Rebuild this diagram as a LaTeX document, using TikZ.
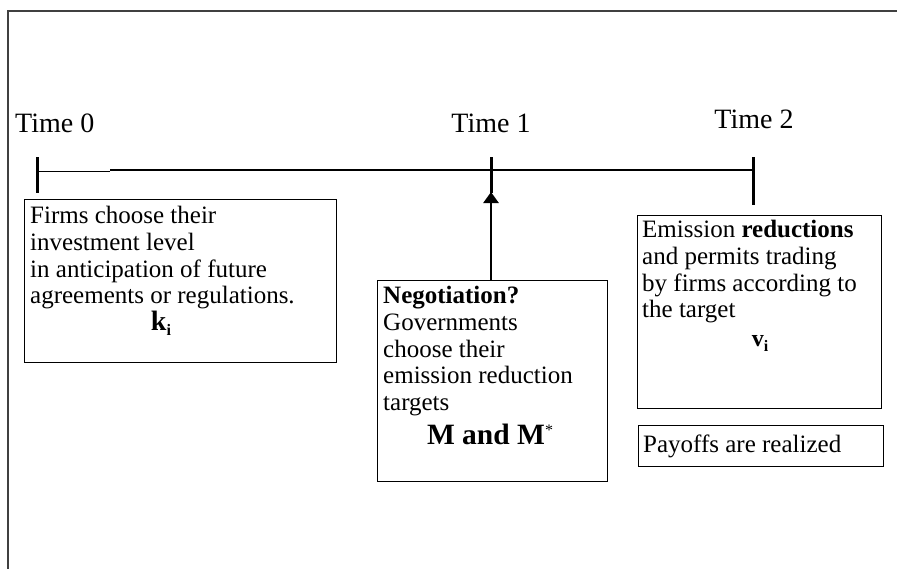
\documentclass[tikz,border=0pt]{standalone}
\usepackage{fontspec}
\setmainfont{Liberation Serif}
\usetikzlibrary{arrows.meta}
\newcommand{\subi}{{\fontsize{16}{16}\selectfont\raisebox{-5pt}{\textbf{i}}}}
\begin{document}
\begin{tikzpicture}[x=1pt,y=-1pt,
  frame/.style={draw=black!75, line width=2pt},
  box/.style={draw, line width=1.3pt, inner sep=0pt, anchor=north west},
  txt/.style={anchor=north west, align=left, inner sep=0pt, font=\fontsize{25}{26.8}\selectfont},
  lbl/.style={inner sep=0pt, font=\fontsize{28}{30}\selectfont},
  tick/.style={line width=3pt},
  thin/.style={line width=0.9pt},
  thick/.style={line width=2.6pt},
  arr/.style={line width=2.6pt, -{Triangle[length=11pt,width=15pt]}}]
\useasboundingbox (0,0) rectangle (897,568);
\clip (0,0) rectangle (897,568);
% outer frame (cut by the page)
\draw[frame] (8,580) -- (8,11) -- (910,11);
% time labels
\node[lbl, anchor=base west] (t0) at (15,132) {Time 0};
\node[lbl, anchor=base] (t1) at (491,132) {Time 1};
\node[lbl, anchor=base] (t2) at (754,128) {Time 2};
% timeline
\coordinate (a0) at (37,171);
\coordinate (a1) at (110,171);
\coordinate (a2) at (753,170);
\coordinate (m1) at (110,170);
\draw[thin] (a0) -- (a1);
\draw[thick] (m1) -- (a2);
\draw[tick] (37,157) -- (37,193);
\draw[tick] (491,157) -- (491,193);
\draw[tick] (753,157) -- (753,205);
% boxes
\node[box, minimum width=312pt, minimum height=163pt] (b1) at (24,199) {};
\node[box, minimum width=230pt, minimum height=201pt] (b2) at (377,280) {};
\node[box, minimum width=244pt, minimum height=193pt] (b3) at (637,215) {};
\node[box, minimum width=245pt, minimum height=41pt] (b4) at (638,425) {};
% texts
\node[txt] (x1) at (30,206) {Firms choose their\\investment level\\in anticipation of future\\agreements or regulations.};
\node[lbl, font=\fontsize{28}{28}\selectfont] (k) at (161,323) {\textbf{k}\subi};
\node[txt] (x2) at (383,286) {\textbf{Negotiation?}\\Governments\\choose their\\emission reduction\\targets};
\node[lbl, font=\fontsize{29.5}{30}\selectfont] (mm) at (490,434) {\textbf{M and M}{\fontsize{16}{16}\selectfont\raisebox{9pt}{*}}};
\node[txt] (x3) at (642,220) {Emission \textbf{reductions}\\and permits trading\\by firms according to\\the target};
\node[lbl, font=\fontsize{24}{24}\selectfont] (v) at (760,343) {\textbf{v}\subi};
\node[txt] (x4) at (643,435) {Payoffs are realized};
% arrow from negotiation box to time 1
\coordinate (p1) at (491,192);
\draw[arr] (b2.north -| p1) -- (p1);
\end{tikzpicture}
\end{document}
